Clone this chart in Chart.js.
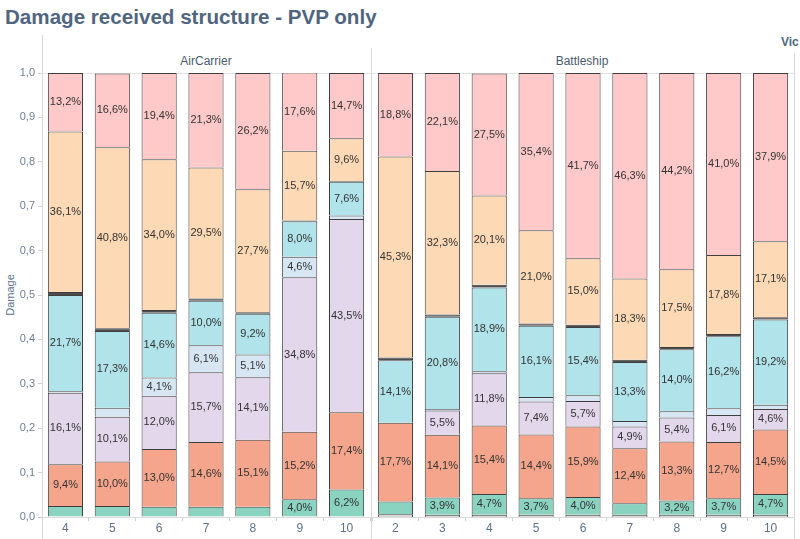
<!DOCTYPE html>
<html>
<head>
<meta charset="utf-8">
<script src="https://cdn.jsdelivr.net/npm/chart.js@4.4.1/dist/chart.umd.min.js"></script>
<style>
  body { margin: 0; background: #fff; font-family: Arial, "Liberation Sans", sans-serif; }
  #wrap { position: relative; width: 800px; height: 539px; overflow: hidden; }
  #title { position: absolute; left: 5px; top: 5px; font-size: 20.6px; font-weight: bold; color: #4f6580; white-space: nowrap; }
  .hdr { position: absolute; top: 54px; font-size: 12px; color: #4a5a6e; transform: translateX(-50%); white-space: nowrap; }
  #vic { position: absolute; left: 781px; top: 35px; font-size: 12px; font-weight: bold; color: #4f6580; white-space: nowrap; }
  .vl { position: absolute; width: 1px; background: #d9d9d9; bottom: 0; }
  .hl { position: absolute; height: 1px; background: #e3e3e3; }
  #damage { position: absolute; left: 10px; top: 295px; font-size: 11px; color: #5b7290; transform: translate(-50%, -50%) rotate(-90deg); }
  canvas { position: absolute; top: 0; }
</style>
</head>
<body>
<div id="wrap">
  <div id="title">Damage received structure - PVP only</div>
  <div class="vl" style="left:42px; top:35px;"></div>
  <div class="vl" style="left:371px; top:48px;"></div>
  <div class="vl" style="left:794px; top:53px;"></div>
  <div class="hl" style="left:38px; width:756px; top:73px;"></div>
  <div class="hdr" style="left:206px;">AirCarrier</div>
  <div class="hdr" style="left:582px;">Battleship</div>
  <div id="vic">Vic</div>
  <div id="damage">Damage</div>
  <canvas id="carrier" width="371" height="539" style="left:0; width:371px; height:539px;"></canvas>
  <canvas id="battleship" width="429" height="539" style="left:371px; width:429px; height:539px;"></canvas>
</div>
<script>
// percentages per segment, bottom to top
const carrierTiers = ['4', '5', '6', '7', '8', '9', '10'];
const carrierGrey = [0, 0, 0, 0, 0, 0, 0];
const carrierTeal = [2.5, 2.5, 2.3, 2.3, 2.3, 4.0, 6.2];
const carrierSalmon = [9.4, 10.0, 13.0, 14.6, 15.1, 15.2, 17.4];
const carrierLavender = [16.1, 10.1, 12.0, 15.7, 14.1, 34.8, 43.5];
const carrierPale = [0.3, 2.0, 4.1, 6.1, 5.1, 4.6, 0.8];
const carrierCyan = [21.7, 17.3, 14.6, 10.0, 9.2, 8.0, 7.6];
const carrierDark = [0.7, 0.6, 0.6, 0.5, 0.3, 0.2, 0.2];
const carrierPeach = [36.1, 40.8, 34.0, 29.5, 27.7, 15.7, 9.6];
const carrierPink = [13.2, 16.6, 19.4, 21.3, 26.2, 17.6, 14.7];

const bbTiers = ['2', '3', '4', '5', '6', '7', '8', '9', '10'];
const bbGrey = [0.6, 0.5, 0.5, 0.5, 0.5, 0.5, 0.5, 0.5, 0.5];
const bbTeal = [2.9, 3.9, 4.7, 3.7, 4.0, 2.6, 3.2, 3.7, 4.7];
const bbSalmon = [17.7, 14.1, 15.4, 14.4, 15.9, 12.4, 13.3, 12.7, 14.5];
const bbLavender = [0, 5.5, 11.8, 7.4, 5.7, 4.9, 5.4, 6.1, 4.6];
const bbPale = [0, 0.3, 0.4, 1.0, 1.3, 1.2, 1.4, 1.5, 1.0];
const bbCyan = [14.1, 20.8, 18.9, 16.1, 15.4, 13.3, 14.0, 16.2, 19.2];
const bbDark = [0.6, 0.5, 0.6, 0.5, 0.5, 0.5, 0.5, 0.5, 0.5];
const bbPeach = [45.3, 32.3, 20.1, 21.0, 15.0, 18.3, 17.5, 17.8, 17.1];
const bbPink = [18.8, 22.1, 27.5, 35.4, 41.7, 46.3, 44.2, 41.0, 37.9];

const yTicks = [0, 0.1, 0.2, 0.3, 0.4, 0.5, 0.6, 0.7, 0.8, 0.9, 1.0];

const colors = ['#d9d9d9', '#8ad3c0', '#f4a58b', '#e3d7eb', '#d7e6f3', '#b1e3ea', '#4d4d4d', '#fed9b5', '#ffc9c9'];

function makeSets(series) {
	return series.map((s, i) => ({
		data: s.map(v => v / 100),
		pct: s,
		backgroundColor: colors[i],
		borderColor: '#3e3e3e',
		borderWidth: 1,
		barPercentage: 0.75,
		categoryPercentage: 1
	}));
}

const segLabels = {
	id: 'segLabels',
	afterDatasetsDraw(chart) {
		const ctx = chart.ctx;
		ctx.save();
		ctx.font = '11px Arial';
		ctx.fillStyle = '#333';
		ctx.textAlign = 'center';
		ctx.textBaseline = 'middle';
		chart.data.datasets.forEach((ds, i) => {
			chart.getDatasetMeta(i).data.forEach((bar, j) => {
				const v = ds.pct[j];
				if (v >= 3) {
					ctx.fillText(v.toFixed(1).replace('.', ',') + '%', bar.x, (bar.y + bar.base) / 2);
				}
			});
		});
		ctx.restore();
	}
};

function xScale() {
	return {
		stacked: true,
		offset: true,
		grid: { drawOnChartArea: false, tickLength: 4, color: '#d0d0d0', offset: true },
		border: { color: '#d9d9d9' },
		ticks: { color: '#5f7088', font: { size: 12, family: 'Arial' }, padding: 0, maxRotation: 0 },
		afterFit: s => { s.height = 22; }
	};
}

function yScale(show) {
	return {
		stacked: true,
		min: 0,
		max: 1,
		display: show,
		afterBuildTicks: s => { s.ticks = yTicks.map(v => ({ value: v })); },
		grid: { drawOnChartArea: false, tickLength: 4, color: '#d0d0d0' },
		border: { display: false },
		ticks: {
			color: '#6e7f94',
			font: { size: 11, family: 'Arial' },
			padding: 3,
			callback: v => v.toFixed(1).replace('.', ',')
		},
		afterFit: s => { s.width = show ? 42 : 0; }
	};
}

new Chart(document.getElementById('carrier'), {
	type: 'bar',
	data: {
		labels: carrierTiers,
		datasets: makeSets([carrierGrey, carrierTeal, carrierSalmon, carrierLavender, carrierPale, carrierCyan, carrierDark, carrierPeach, carrierPink])
	},
	options: {
		responsive: false,
		animation: false,
		layout: { padding: { top: 73, right: 1, left: 0, bottom: 0 } },
		plugins: { legend: { display: false }, tooltip: { enabled: false } },
		scales: { x: xScale(), y: yScale(true) }
	},
	plugins: [segLabels]
});

new Chart(document.getElementById('battleship'), {
	type: 'bar',
	data: {
		labels: bbTiers,
		datasets: makeSets([bbGrey, bbTeal, bbSalmon, bbLavender, bbPale, bbCyan, bbDark, bbPeach, bbPink])
	},
	options: {
		responsive: false,
		animation: false,
		layout: { padding: { top: 73, right: 6, left: 1, bottom: 0 } },
		plugins: { legend: { display: false }, tooltip: { enabled: false } },
		scales: { x: xScale(), y: yScale(false) }
	},
	plugins: [segLabels]
});
</script>
</body>
</html>
